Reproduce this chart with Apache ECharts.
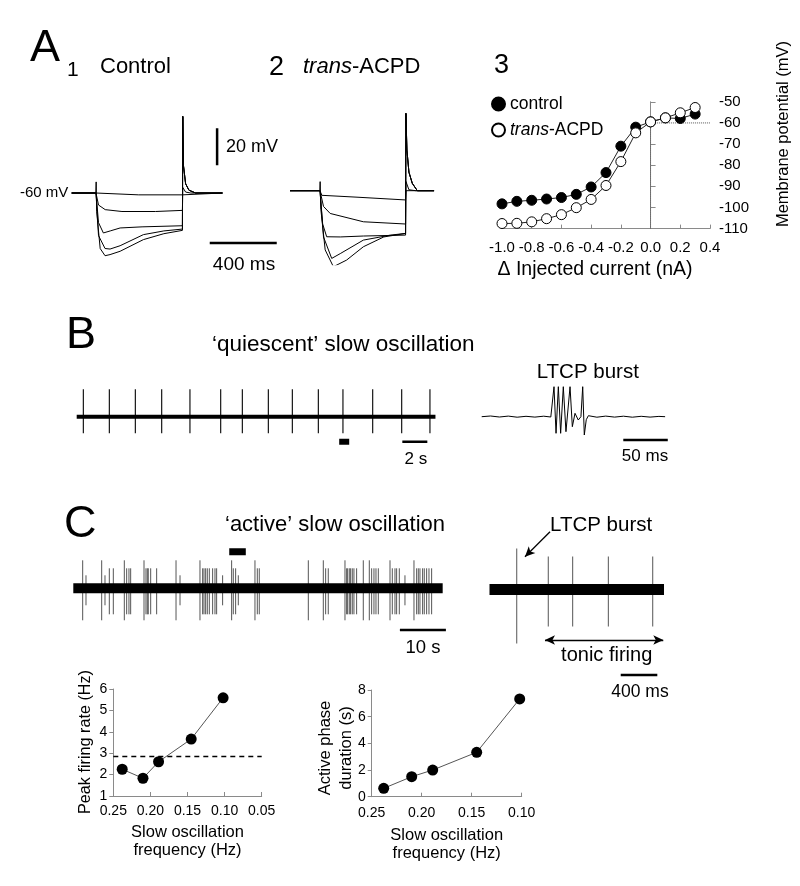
<!DOCTYPE html>
<html><head><meta charset="utf-8">
<script src="https://cdn.jsdelivr.net/npm/echarts@6/dist/echarts.min.js"></script>
<style>html,body{margin:0;padding:0;background:#fff}#c{width:800px;height:886px}</style>
</head><body><div id="c"></div>
<script>
// ---------- DATA ----------
// Panel A1 (control) voltage traces: [time ms, membrane potential mV]
const a1Trace1 = [[0,-60],[145,-60],[150,-61],[400,-61],[661,-61],[664,-60],[900,-60]];
const a1Trace2 = [[0,-60],[145,-60],[160,-66.5],[200,-69],[300,-70],[500,-70],[661,-69.4],[663,-57],[680,-59.5],[710,-60],[900,-60]];
const a1Trace3 = [[0,-60],[145,-60],[160,-76],[189,-81.6],[230,-80.5],[289,-78.9],[420,-78.3],[661,-77.7],[663,-18.6],[667,-45],[680,-55],[700,-58.5],[740,-60],[900,-60]];
const a1Trace4 = [[0,-60],[145,-60],[160,-83],[199,-90],[229,-90.3],[289,-88.5],[428,-82.5],[550,-80.5],[661,-79.5],[663,-18.6],[667,-45],[680,-55],[700,-58.5],[740,-60],[900,-60]];
const a1Trace5 = [[0,-60],[144,-60],[146,-54],[149,-70],[170,-90],[199,-93.9],[229,-93.3],[289,-91.5],[428,-85.2],[550,-82],[661,-80.2],[663,-18.6],[667,-45],[680,-55],[700,-58.5],[740,-60],[900,-60]];
// Panel A2 (trans-ACPD) voltage traces
const a2Trace1 = [[0,-60],[179,-60],[190,-62.5],[400,-63.5],[690,-65],[693,-60],[860,-60]];
const a2Trace2 = [[0,-60],[179,-60],[200,-68.5],[240,-72.3],[438,-76.8],[690,-78],[692,-55],[710,-59.5],[750,-60],[860,-60]];
const a2Trace3 = [[0,-60],[179,-60],[195,-78],[219,-84.9],[300,-85],[438,-84.5],[690,-84],[692,-18.2],[698,-38],[710,-50],[730,-56],[760,-60],[860,-60]];
const a2Trace4 = [[0,-60],[179,-60],[200,-85],[249,-96.6],[300,-94],[438,-86.7],[600,-84],[690,-83.1],[692,-18.2],[698,-38],[710,-50],[730,-56],[760,-60],[860,-60]];
const a2Trace5 = [[0,-60],[178,-60],[180,-55.1],[184,-70],[210,-92],[259,-101.1],[338,-97.5],[438,-90.3],[560,-85],[690,-83.1],[692,-18.2],[698,-38],[710,-50],[730,-56],[760,-60],[860,-60]];
// Scale bars A (ms / mV)
const a1VoltBar = [[868,-45],[868,-25]];
const a1TimeBar = [[824,-87],[1224,-87]];

// Panel A3: I-V relation
const a3Current = [-1.0,-0.9,-0.8,-0.7,-0.6,-0.5,-0.4,-0.3,-0.2,-0.1,0.0,0.1,0.2,0.3];
const a3Control = [-98.3,-97.1,-96.6,-96.0,-95.3,-93.8,-90.3,-83.5,-71,-62,-59.5,-57.6,-57.9,-55.8];
const a3Trans   = [-107.6,-107.5,-106.8,-105.3,-103.4,-100.1,-96.2,-89.6,-78.3,-64.7,-59.5,-57.6,-55.2,-52.7];
const a3RefLine = [[0,-110],[0,-60],[0.4,-60]];
const a3XTicks = {min:-1.0, max:0.4, step:0.2};
const a3YTicks = {min:-110, max:-50, step:10};

// Panel B: quiescent slow oscillation (time s, arbitrary units)
const bSpikeTimes = [0.53,2.61,4.69,6.8,9.06,11.52,13.25,15.33,17.25,19.33,21.3,23.68,26.0,28.26];
const bSpikeUp = 27.5, bSpikeDown = -16.6;
const bBaseline = [[0,0],[28.7,0]];
const bMarker = [[21.0,-25],[21.8,-25]];
const bTimeBar = [[26.05,-25],[28.05,-25]];
// Panel B inset: LTCP burst (time ms)
const biTrace = [[0,0],[10,0.7],[20,-0.3],[30,0.6],[40,-0.5],[50,0.4],[60,-0.4],[70,0.5],[78,-0.3],[80.1,0.5],[81.6,30],[83.9,-16.6],[86.5,30],[89.1,-16.6],[92.1,30],[95.1,-15],[99.7,30],[102.3,-10],[105.3,3.4],[109,-3.3],[112,0],[114,30],[115.8,-18.3],[118,-3],[120.4,1],[130,-0.5],[140,0.6],[150,-0.4],[160,0.5],[170,-0.5],[180,0.4],[190,-0.4],[200,0.3],[207,0]];
const biTimeBar = [[159.8,-23.3],[210,-23.3]];

// Panel C: active slow oscillation (time s)
const cSpikeTimes = [2.04,2.76,6.17,6.89,7.83,8.70,11.09,11.6,12.1,12.47,15.37,15.8,16.09,16.3,16.82,18.12,22.33,23.2,27.54,28.12,28.41,28.77,29.13,29.57,30.29,30.8,31.16,32.46,34.42,34.78,35.29,35.87,39.49,40.0,40.43,51.09,54.35,54.86,55.43,59.06,59.42,59.64,60.0,60.29,60.65,61.01,61.59,63.04,64.35,64.86,65.36,65.8,66.31,68.85,69.35,69.93,70.29,70.87,72.1,74.06,74.64,75.0,75.36,75.94,76.3,76.81,77.32,77.9];
const cSpikeUp =   [28,13,28,13,20,20,28,20,20,20,28,20,20,20,20,20,28,13,28,20,20,20,20,20,20,20,20,13,28,20,20,13,28,20,20,28,28,20,20,28,20,20,20,20,20,20,20,28,28,20,20,20,20,28,20,20,20,20,13,28,20,20,20,20,20,20,20,20];
const cSpikeDown = [-32,-17,-32,-17,-26,-26,-32,-26,-26,-26,-32,-26,-26,-26,-26,-26,-32,-17,-32,-26,-26,-26,-26,-26,-26,-26,-26,-17,-32,-26,-26,-17,-32,-26,-26,-32,-32,-26,-26,-32,-26,-26,-26,-26,-26,-26,-26,-32,-32,-26,-26,-26,-26,-32,-26,-26,-26,-26,-17,-32,-26,-26,-26,-26,-26,-26,-26,-26];
const cBaseline = [[0,0],[80.3,0]];
const cMarker = [[33.9,36.6],[37.5,36.6]];
const cTimeBar = [[71.0,-41.7],[81.0,-41.7]];
// Panel C inset: LTCP burst then tonic firing (time ms)
const ciSpikeTimes = [297,641,907,1296,1780];
const ciSpikeUp = [41,33,33,33,33];
const ciSpikeDown = [-54,-37,-37,-37,-37];
const ciBaseline = [[0,0],[1903,0]];
const ciTonicArrow = [[605,-50.5],[1895,-50.5]];
const ciLtcpArrow = [[660,57.8],[387,32.8]];
const ciTimeBar = [[1431,-85.5],[1830,-85.5]];

// Bottom plots
const slowFreq = [0.238,0.210,0.189,0.145,0.102];
const peakRate = [2.25,1.83,2.6,3.66,5.59];
const tonicRate = 2.84;
const activeDur = [0.63,1.5,2.0,3.33,7.33];

// ---------- CHART ----------
const FONT = '"Liberation Sans", Arial, Helvetica, sans-serif';
const AXIS_GRAY = '#8a8a8a';

const chart = echarts.init(document.getElementById('c'), null, {renderer:'canvas'});

const grids = [
  {left:71.7, top:100.5, width:209.4, height:166.5},  // 0 A1
  {left:290,  top:98.2,  width:150.75,height:166.5},  // 1 A2
  {left:502,  top:101.8, width:208,   height:126.8},  // 2 A3
  {left:76.7, top:376.7, width:362.5, height:80},     // 3 B
  {left:481.7,top:376.7, width:190.5, height:80},     // 4 B inset
  {left:73.3, top:538.3, width:377.2, height:100},    // 5 C
  {left:489.5,top:529.5, width:183.4, height:160},    // 6 C inset
  {left:113.3,top:689,   width:148.4, height:107},    // 7 D
  {left:371.7,top:690,   width:150,   height:106.7}   // 8 E
];

const hidden = (g,min,max) => ({type:'value', gridIndex:g, min, max, show:false});
const tickA3 = {fontFamily:FONT, fontSize:15, color:'#000'};
const tickBot = {fontFamily:FONT, fontSize:14, color:'#000'};

const xAxis = [
  hidden(0,0,1250), hidden(1,0,900),
  {type:'value', gridIndex:2, min:a3XTicks.min, max:a3XTicks.max, interval:a3XTicks.step,
   axisLine:{lineStyle:{color:AXIS_GRAY}}, axisTick:{inside:true,length:4,lineStyle:{color:AXIS_GRAY}},
   splitLine:{show:false},
   axisLabel:{...tickA3, margin:12, formatter:v=>Math.abs(v)<1e-9?'0.0':v.toFixed(1)}},
  hidden(3,0,29), hidden(4,0,215), hidden(5,0,82), hidden(6,0,2000),
  {type:'value', gridIndex:7, min:0.05, max:0.25, interval:0.05, inverse:true,
   axisLine:{lineStyle:{color:AXIS_GRAY}}, axisTick:{inside:true,length:4,lineStyle:{color:AXIS_GRAY}},
   splitLine:{show:false}, axisLabel:{...tickBot, margin:8, formatter:v=>v.toFixed(2)}},
  {type:'value', gridIndex:8, min:0.10, max:0.25, interval:0.05, inverse:true,
   axisLine:{lineStyle:{color:AXIS_GRAY}}, axisTick:{inside:true,length:4,lineStyle:{color:AXIS_GRAY}},
   splitLine:{show:false}, axisLabel:{...tickBot, margin:9, formatter:v=>v.toFixed(2)}}
];
const yAxis = [
  hidden(0,-100,-10), hidden(1,-100,-10),
  {type:'value', gridIndex:2, position:'right', min:a3YTicks.min, max:a3YTicks.max, interval:a3YTicks.step,
   axisLine:{show:true,lineStyle:{color:AXIS_GRAY}}, axisTick:{show:true,length:5,lineStyle:{color:AXIS_GRAY}},
   splitLine:{show:false}, axisLabel:{...tickA3, margin:9}},
  hidden(3,-40,40), hidden(4,-40,40), hidden(5,-50,50), hidden(6,-100,60),
  {type:'value', gridIndex:7, min:1, max:6, interval:1,
   axisLine:{show:true,lineStyle:{color:AXIS_GRAY}}, axisTick:{show:true,length:4,lineStyle:{color:AXIS_GRAY}},
   splitLine:{show:false}, axisLabel:{...tickBot, margin:6}},
  {type:'value', gridIndex:8, min:0, max:8, interval:2,
   axisLine:{show:true,lineStyle:{color:AXIS_GRAY}}, axisTick:{show:true,length:4,lineStyle:{color:AXIS_GRAY}},
   splitLine:{show:false}, axisLabel:{...tickBot, margin:6}}
];

const trace = (g, data, w, color, extra={}) => Object.assign({
  type:'line', xAxisIndex:g, yAxisIndex:g, data, symbol:'none', silent:true,
  lineStyle:{color:color||'#000', width:w||1}, z:3
}, extra);

const spikes = (g, times, up, down, color, w) => ({
  type:'custom', xAxisIndex:g, yAxisIndex:g, silent:true, z:2,
  data: times.map((t,i)=>[t, Array.isArray(up)?up[i]:up, Array.isArray(down)?down[i]:down]),
  renderItem:(p, api) => {
    const a = api.coord([api.value(0), api.value(1)]);
    const b = api.coord([api.value(0), api.value(2)]);
    return {type:'line', shape:{x1:a[0],y1:a[1],x2:b[0],y2:b[1]}, style:{stroke:color, lineWidth:w}};
  }
});

const arrowLine = (g, pts, sym) => ({
  type:'line', xAxisIndex:g, yAxisIndex:g, data:[], symbol:'none', silent:true,
  markLine:{silent:true, animation:false, symbol:sym, symbolSize:[7,10], label:{show:false},
    lineStyle:{color:'#000', width:1.3, type:'solid'},
    data:[[{coord:pts[0]},{coord:pts[1]}]]}
});

const series = [
  // A1
  trace(0,a1Trace1,1), trace(0,a1Trace2,1), trace(0,a1Trace3,1), trace(0,a1Trace4,1), trace(0,a1Trace5,1),
  trace(0,a1VoltBar,2.5), trace(0,a1TimeBar,2.5),
  // A2
  trace(1,a2Trace1,1), trace(1,a2Trace2,1), trace(1,a2Trace3,1), trace(1,a2Trace4,1), trace(1,a2Trace5,1),
  // A3
  trace(2,a3RefLine,1,'#555',{lineStyle:{color:'#555',width:1,type:'dotted'}, z:1}),
  {name:'control', type:'line', xAxisIndex:2, yAxisIndex:2, data:a3Current.map((x,i)=>[x,a3Control[i]]),
   symbol:'circle', symbolSize:10, lineStyle:{color:'#222',width:1}, itemStyle:{color:'#000',borderColor:'#000',borderWidth:1}, z:4},
  {name:'trans-ACPD', type:'line', xAxisIndex:2, yAxisIndex:2, data:a3Current.map((x,i)=>[x,a3Trans[i]]),
   symbol:'circle', symbolSize:10, lineStyle:{color:'#222',width:1}, itemStyle:{color:'#fff',borderColor:'#000',borderWidth:1}, z:5},
  // B
  trace(3,bBaseline,4), spikes(3,bSpikeTimes,bSpikeUp,bSpikeDown,'#000',1.1),
  trace(3,bMarker,6), trace(3,bTimeBar,2.5),
  trace(4,biTrace,1), trace(4,biTimeBar,2.5),
  // C
  spikes(5,cSpikeTimes,cSpikeUp,cSpikeDown,'#555',1), trace(5,cBaseline,10),
  trace(5,cMarker,7), trace(5,cTimeBar,2.5),
  spikes(6,ciSpikeTimes,ciSpikeUp,ciSpikeDown,'#555',1), trace(6,ciBaseline,11),
  trace(6,ciTimeBar,2.5),
  arrowLine(6,ciTonicArrow,['arrow','arrow']),
  arrowLine(6,ciLtcpArrow,['none','arrow']),
  // D
  trace(7,[[0.25,tonicRate],[0.05,tonicRate]],1.5,'#000',{lineStyle:{color:'#000',width:1.5,type:[5,4]}, z:1}),
  {type:'line', xAxisIndex:7, yAxisIndex:7, data:slowFreq.map((f,i)=>[f,peakRate[i]]), symbol:'circle', symbolSize:11,
   lineStyle:{color:'#555',width:1}, itemStyle:{color:'#000'}, silent:true, z:4},
  // E
  {type:'line', xAxisIndex:8, yAxisIndex:8, data:slowFreq.map((f,i)=>[f,activeDur[i]]), symbol:'circle', symbolSize:11,
   lineStyle:{color:'#555',width:1}, itemStyle:{color:'#000'}, silent:true, z:4}
];

function txt(text, x, y, size, o={}) {
  return {type:'text', x, y, rotation:o.rot||0, silent:true, z:100,
    style:{text, x:0, y:0, font:`${o.italic?'italic ':''}${size}px ${o.fam||FONT}`, fill:'#000',
      textAlign:o.align||'left', align:o.align||'left', textVerticalAlign:'middle', verticalAlign:'middle', rich:o.rich}};
}
const richTrans = (s) => ({i:{fontStyle:'italic',fontSize:s,fontFamily:FONT,fill:'#000',color:'#000'}, n:{fontSize:s,fontFamily:FONT,fill:'#000',color:'#000'}});

const graphic = [
  txt('A', 30, 49, 45),
  txt('1', 67, 70, 21),
  txt('Control', 100, 66.7, 22),
  txt('2', 269, 67.5, 27),
  txt('{i|trans}{n|-ACPD}', 303, 67, 22, {rich:richTrans(22)}),
  txt('3', 494, 66, 27),
  txt('-60 mV', 20, 193, 15),
  txt('20 mV', 226, 147, 18),
  txt('400 ms', 244, 265, 19, {align:'center'}),
  txt('Δ Injected current (nA)', 595, 270, 19.5, {align:'center'}),
  txt('Membrane potential (mV)', 783, 134, 16.5, {align:'center', rot:Math.PI/2}),
  txt('B', 66, 336, 45),
  txt('‘quiescent’ slow oscillation', 212, 345, 22.5),
  txt('LTCP burst', 536.7, 372.7, 20.5),
  txt('2 s', 415.8, 459.3, 17, {align:'center'}),
  txt('50 ms', 645, 456.7, 17, {align:'center'}),
  txt('C', 64, 525, 45),
  txt('‘active’ slow oscillation', 225, 525, 22),
  txt('LTCP burst', 550, 525, 20.5),
  txt('10 s', 423, 648, 18.5, {align:'center'}),
  txt('tonic firing', 606.7, 655, 20, {align:'center'}),
  txt('400 ms', 640, 691.7, 17.5, {align:'center'}),
  txt('Peak firing rate (Hz)', 86, 742, 16.2, {align:'center', rot:Math.PI/2}),
  txt('Slow oscillation', 187.5, 832, 16.5, {align:'center'}),
  txt('frequency (Hz)', 187.5, 850, 16.5, {align:'center'}),
  txt('Active phase', 325, 748, 16.5, {align:'center', rot:Math.PI/2}),
  txt('duration (s)', 346, 748, 16.5, {align:'center', rot:Math.PI/2}),
  txt('Slow oscillation', 446.7, 835, 16.5, {align:'center'}),
  txt('frequency (Hz)', 446.7, 853, 16.5, {align:'center'})
];

chart.setOption({
  animation:false,
  backgroundColor:'#fff',
  grid: grids,
  xAxis, yAxis, series, graphic,
  legend:{orient:'vertical', left:491, top:95, padding:0, itemGap:8, itemWidth:13, itemHeight:13,
    selectedMode:false,
    textStyle:{fontSize:17.5, fontFamily:FONT, color:'#000', rich:{i:{fontStyle:'italic',fontSize:17.5,fontFamily:FONT,color:'#000'}}},
    formatter:n => n==='trans-ACPD' ? '{i|trans}-ACPD' : n,
    data:[{name:'control',icon:'circle'},{name:'trans-ACPD',icon:'circle'}]}
});
</script></body></html>
